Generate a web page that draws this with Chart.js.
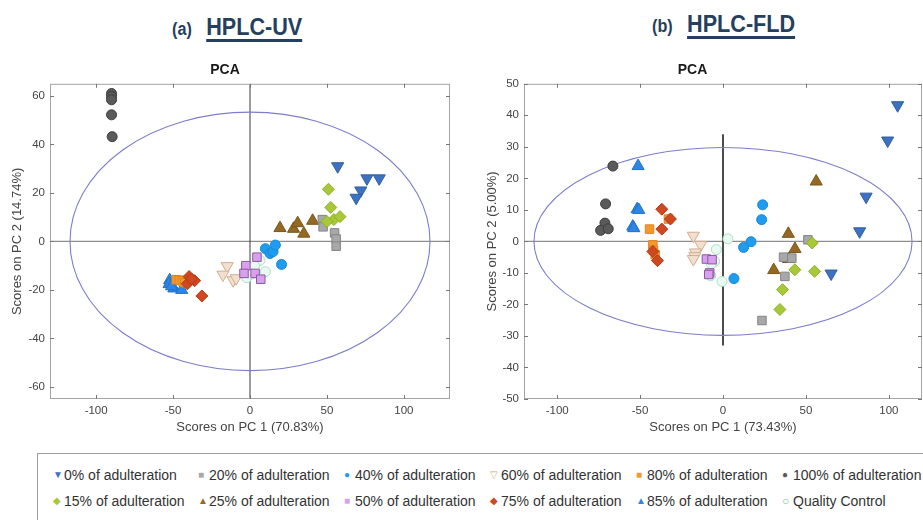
<!DOCTYPE html>
<html>
<head>
<meta charset="utf-8">
<script src="https://cdn.jsdelivr.net/npm/chart.js@4.4.0/dist/chart.umd.min.js"></script>
<style>
  html, body { margin: 0; padding: 0; background: #fff; }
  body { width: 923px; height: 520px; overflow: hidden; position: relative; font-family: "Liberation Sans", Arial, sans-serif; }
  .hd { position: absolute; color: #253f5e; font-family: "Liberation Sans", Arial, sans-serif; font-weight: bold; white-space: nowrap;
        line-height: 24px; transform: scaleX(0.9); transform-origin: left top; }
  .hd .tag { font-size: 18px; margin-right: 16px; }
  .hd .name { font-size: 24px; text-decoration: underline; text-decoration-thickness: 3px; text-underline-offset: 4px; }
  .box { position: absolute; }
  #legend { position: absolute; left: 37px; top: 453px; width: 900px; height: 80px; border: 1px solid #9c9c9c; }
  .li { position: absolute; font-size: 14px; color: #333; white-space: nowrap; line-height: 16px; }
  .mk { position: absolute; font-size: 10px; line-height: 16px; }
</style>
</head>
<body>
<div class="hd" style="left:172px; top:15px;"><span class="tag">(a)</span><span class="name">HPLC-UV</span></div>
<div class="hd" style="left:652px; top:12px;"><span class="tag">(b)</span><span class="name">HPLC-FLD</span></div>

<div class="box" style="left:0px; top:50px;"><canvas id="uvChart" width="460" height="390"></canvas></div>
<div class="box" style="left:460px; top:50px;"><canvas id="fldChart" width="470" height="390"></canvas></div>
<div id="legend"></div>

<script>
// series names
const labels = ['0% of adulteration', '15% of adulteration', '20% of adulteration', '25% of adulteration',
  '40% of adulteration', '50% of adulteration', '60% of adulteration', '75% of adulteration',
  '80% of adulteration', '85% of adulteration', '100% of adulteration', 'Quality Control'];

// HPLC-UV scores [PC1, PC2]
const uv_0   = [[57,31],[76,26],[84,26],[72,21],[69,18]];
const uv_15  = [[51,21.5],[52.5,14],[54.5,9],[58.5,10.2],[50,8.2]];
const uv_20  = [[47,9],[47.5,6],[55,3.5],[56,1],[56,-2]];
const uv_25  = [[19.5,5.5],[28.3,5.2],[31,7.5],[35,3.2],[40.7,8.5]];
const uv_40  = [[10,-3],[13,-5],[15,-4.2],[16.5,-1.5],[20.5,-9.5]];
const uv_50  = [[4.5,-6.5],[-2.7,-10],[-3.9,-13.2],[3.3,-13.2],[7,-15.6]];
const uv_60  = [[-14.8,-10.2],[-17.6,-13.7],[-11,-16],[-9,-15.2]];
const uv_75  = [[-39.6,-14.5],[-36,-16.2],[-40.7,-17.5],[-38,-15.5],[-31.3,-22.5]];
const uv_80  = [[-48,-15.8],[-46,-16],[-44,-16.3],[-42.5,-17]];
const uv_85  = [[-52.2,-16],[-52.6,-17.6],[-49.5,-19.4],[-44.4,-20],[-51,-18.5]];
const uv_100 = [[-90,61],[-90,59.8],[-90,58.4],[-90,52.2],[-89.6,43.2]];
const uv_qc  = [[6.5,-7.8],[3,-10.2],[10,-12.5],[-2.2,-15],[1,-13.5]];

// HPLC-FLD scores [PC1, PC2]
const fld_0   = [[105.3,43.2],[99.3,32],[86.3,14.2],[82.4,3.2],[65.2,-10.2]];
const fld_15  = [[53.8,-0.5],[43.3,-9],[55.2,-9.5],[35.9,-15.3],[34.3,-21.6]];
const fld_20  = [[51.2,0.5],[36.5,-5],[41.5,-5.3],[37.3,-11.1],[23.5,-25.1]];
const fld_25  = [[56.2,19],[39.4,2.4],[43.4,-2.4],[30.6,-9.1],[39.5,-5.6]];
const fld_40  = [[23.9,11.6],[23.3,6.9],[16.9,-0.1],[12.4,-1.9],[6.6,-11.8]];
const fld_50  = [[-10,-5.6],[-6.6,-5.8],[-8,-10],[-8.6,-10.5]];
const fld_60  = [[-17.9,1.8],[-13.4,-1.1],[-16.6,-3.5],[-17,-4.7],[-17.9,-5.6]];
const fld_75  = [[-36.9,10.2],[-31.7,7.1],[-36.9,3.9],[-42.3,-3.2],[-39.5,-6.1]];
const fld_80  = [[-44.3,3.9],[-32.9,7.1],[-42.3,-1.1],[-41.9,-2.8],[-40.9,-4.2]];
const fld_85  = [[-51.2,23.9],[-51.8,10.2],[-50.8,10],[-54.4,4.7],[-53.8,4.2]];
const fld_100 = [[-66.4,23.9],[-70.8,11.9],[-71.2,5.8],[-73.8,3.5],[-69.2,4]];
const fld_qc  = [[3,0.8],[-4,-2.6],[-5,-6.3],[-7,-7.1],[-7.4,-10.9],[-0.6,-12.7]];

// confidence ellipse semi-axes [PC1, PC2]
const uvEllipse = [117, 53.3];
const fldEllipse = [114, 29.8];
// vertical zero line span on FLD plot
const fldZeroSpan = [-33, 34];

// axis ticks
const uvTicksX = [-100, -50, 0, 50, 100];
const uvTicksY = [-60, -40, -20, 0, 20, 40, 60];
const fldTicksX = [-100, -50, 0, 50, 100];
const fldTicksY = [-50, -40, -30, -20, -10, 0, 10, 20, 30, 40, 50];

// marker styles
const fills   = ['#3d72c2','#a8c838','#a8a8a8','#946a23','#1f9bef','#d9a0ef','#f3dfcd','#d0481f','#f5992c','#2d85e6','#5a5a5a','#eaf9f2'];
const borders = ['#2f5e9e','#8fae2c','#858585','#7a561a','#1a88d6','#8c5a9c','#cfae92','#b03a18','#e08420','#2270c8','#3c3c3c','#a6e2c8'];
const shapes  = ['triangle','rectRot','rect','triangle','circle','rect','triangle','rectRot','rect','triangle','circle','circle'];
const turns   = [180,0,0,0,0,0,180,0,0,0,0,0];
const sizes   = [7,6,6,7,5,6,7,6,6,7,5,5];
const glyphs  = ['\u25BC','\u25C6','\u25A0','\u25B2','\u25CF','\u25A0','\u25BD','\u25C6','\u25A0','\u25B2','\u25CF','\u25CB'];

Chart.defaults.font.family = '"Liberation Sans", Arial, sans-serif';

const toPts = arr => arr.map(p => ({x: p[0], y: p[1]}));

function makeSets(list) {
  return list.map((arr, i) => ({
    label: labels[i],
    data: toPts(arr),
    pointStyle: shapes[i],
    rotation: turns[i],
    radius: sizes[i],
    hoverRadius: sizes[i],
    backgroundColor: fills[i],
    borderColor: borders[i],
    borderWidth: 1
  }));
}

const pcaPlugin = {
  id: 'pca',
  beforeDatasetsDraw(chart, args, opts) {
    const {ctx, chartArea: a, scales: {x, y}} = chart;
    const x0 = x.getPixelForValue(0), y0 = y.getPixelForValue(0);
    ctx.save();
    ctx.beginPath();
    ctx.rect(a.left, a.top, a.right - a.left, a.bottom - a.top);
    ctx.clip();
    // zero lines
    ctx.strokeStyle = '#8e8e8e';
    ctx.lineWidth = 1.3;
    ctx.beginPath(); ctx.moveTo(a.left, y0); ctx.lineTo(a.right, y0); ctx.stroke();
    ctx.strokeStyle = opts.vColor;
    ctx.lineWidth = opts.vWidth;
    const vt = opts.vSpan ? y.getPixelForValue(opts.vSpan[1]) : a.top;
    const vb = opts.vSpan ? y.getPixelForValue(opts.vSpan[0]) : a.bottom;
    ctx.beginPath(); ctx.moveTo(x0, vt); ctx.lineTo(x0, vb); ctx.stroke();
    // ellipse
    const rx = Math.abs(x.getPixelForValue(opts.ellipse[0]) - x0);
    const ry = Math.abs(y.getPixelForValue(opts.ellipse[1]) - y0);
    ctx.strokeStyle = '#7d7dcc';
    ctx.lineWidth = 1.1;
    ctx.beginPath(); ctx.ellipse(x0, y0, rx, ry, 0, 0, Math.PI * 2); ctx.stroke();
    ctx.restore();
  },
  afterDraw(chart) {
    const {ctx, chartArea: a, scales: {x, y}} = chart;
    ctx.save();
    ctx.strokeStyle = '#a4a4a4';
    ctx.lineWidth = 1;
    ctx.strokeRect(a.left + 0.5, a.top + 0.5, a.right - a.left - 1, a.bottom - a.top - 1);
    ctx.strokeStyle = '#777';
    ctx.beginPath();
    x.ticks.forEach(t => {
      const px = Math.round(x.getPixelForValue(t.value)) + 0.5;
      ctx.moveTo(px, a.bottom); ctx.lineTo(px, a.bottom - 4);
      ctx.moveTo(px, a.top); ctx.lineTo(px, a.top + 4);
    });
    y.ticks.forEach(t => {
      const py = Math.round(y.getPixelForValue(t.value)) + 0.5;
      ctx.moveTo(a.left, py); ctx.lineTo(a.left + 4, py);
      ctx.moveTo(a.right, py); ctx.lineTo(a.right - 4, py);
    });
    ctx.stroke();
    ctx.restore();
  }
};

function makeChart(id, sets, cfg) {
  return new Chart(document.getElementById(id), {
    type: 'scatter',
    data: { datasets: makeSets(sets) },
    plugins: [pcaPlugin],
    options: {
      responsive: false,
      animation: false,
      layout: { padding: { left: 0, right: cfg.padRight, top: 0, bottom: 0 } },
      plugins: {
        legend: { display: false },
        tooltip: { enabled: false },
        title: {
          display: true, text: 'PCA', color: '#1a1a1a',
          font: { size: 14, weight: 'bold' },
          padding: { top: 12, bottom: 5 }
        },
        pca: { ellipse: cfg.ellipse, vColor: cfg.vColor, vWidth: cfg.vWidth, vSpan: cfg.vSpan }
      },
      scales: {
        x: {
          type: 'linear', min: cfg.xRange[0], max: cfg.xRange[1],
          grid: { display: false, drawTicks: false }, border: { display: false },
          afterBuildTicks: s => { s.ticks = cfg.ticksX.map(v => ({value: v})); },
          afterFit: s => { s.height = 41; },
          ticks: { color: '#444', font: { size: 11.5 }, padding: 5 },
          title: { display: true, text: cfg.xTitle, color: '#444', font: { size: 13 }, padding: { top: 0, bottom: 5 } }
        },
        y: {
          type: 'linear', min: cfg.yRange[0], max: cfg.yRange[1],
          grid: { display: false, drawTicks: false }, border: { display: false },
          afterBuildTicks: s => { s.ticks = cfg.ticksY.map(v => ({value: v})); },
          afterFit: s => { s.width = cfg.yWidth; },
          ticks: { color: '#444', font: { size: 11.5 }, padding: 5 },
          title: { display: true, text: cfg.yTitle, color: '#444', font: { size: 13 }, padding: { top: cfg.yTitlePad, bottom: 0 } }
        }
      }
    }
  });
}

makeChart('uvChart',
  [uv_0, uv_15, uv_20, uv_25, uv_40, uv_50, uv_60, uv_75, uv_80, uv_85, uv_100, uv_qc],
  { xRange: [-130, 130], yRange: [-65, 65], ticksX: uvTicksX, ticksY: uvTicksY,
    xTitle: 'Scores on PC 1 (70.83%)', yTitle: 'Scores on PC 2 (14.74%)',
    yWidth: 50, yTitlePad: 10, padRight: 10,
    ellipse: uvEllipse, vColor: '#3a3a3a', vWidth: 1, vSpan: null });

makeChart('fldChart',
  [fld_0, fld_15, fld_20, fld_25, fld_40, fld_50, fld_60, fld_75, fld_80, fld_85, fld_100, fld_qc],
  { xRange: [-120, 120], yRange: [-50, 50], ticksX: fldTicksX, ticksY: fldTicksY,
    xTitle: 'Scores on PC 1 (73.43%)', yTitle: 'Scores on PC 2 (5.00%)',
    yWidth: 64, yTitlePad: 25, padRight: 5,
    ellipse: fldEllipse, vColor: '#111', vWidth: 1.5, vSpan: fldZeroSpan });

// legend, two rows of six, in the reference order
const legendOrder = [0, 2, 4, 6, 8, 10, 1, 3, 5, 7, 9, 11];
const colX = [15, 160, 306, 452, 598, 744];
const rowY = [13, 39];
const leg = document.getElementById('legend');
legendOrder.forEach((idx, k) => {
  const col = k % 6, row = Math.floor(k / 6);
  const mk = document.createElement('span');
  mk.className = 'mk';
  mk.textContent = glyphs[idx];
  mk.style.color = idx === 11 ? '#6cc69f' : (idx === 6 ? borders[idx] : fills[idx]);
  if (idx === 11) mk.style.fontSize = '12px';
  mk.style.left = colX[col] + 'px';
  mk.style.top = rowY[row] + 'px';
  leg.appendChild(mk);
  const tx = document.createElement('span');
  tx.className = 'li';
  tx.textContent = labels[idx];
  tx.style.left = (colX[col] + 11) + 'px';
  tx.style.top = rowY[row] + 'px';
  leg.appendChild(tx);
});
</script>
</body>
</html>
